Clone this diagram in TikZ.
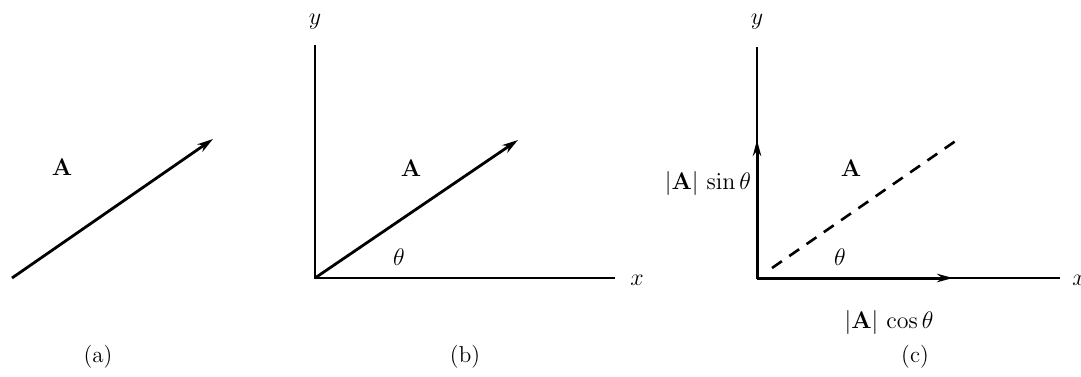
\documentclass[tikz,border=0pt]{standalone}
\usetikzlibrary{arrows.meta}
\begin{document}
\begin{tikzpicture}[x=0.5pt,y=-0.5pt,
  lbl/.style={font=\fontsize{11.5}{13}\selectfont, inner sep=0pt},
  axis/.style={line width=0.8pt},
  vec/.style={line width=1.4pt, -{Stealth[length=8pt,width=4.6pt]}},
  comp/.style={line width=1.5pt, -{Stealth[length=8pt,width=4.2pt]}},
  dashvec/.style={line width=1.3pt, dash pattern=on 6pt off 4.5pt}]
\useasboundingbox (0,0) rectangle (1081,376);
% (a)
\coordinate (a0) at (12,278);
\coordinate (a1) at (213,139);
\draw[vec] (a0) -- (a1);
\node[lbl] (aA) at (62,167) {$\mathbf{A}$};
\node[lbl] (acap) at (98,357) {(a)};
% (b)
\coordinate (bO) at (315,278);
\coordinate (bY) at (315,45);
\coordinate (bX) at (615,278);
\coordinate (bT) at (518,140);
\draw[axis] (bY) -- (bO) -- (bX);
\draw[vec] (bO) -- (bT);
\node[lbl] (by) at (315,22) {$y$};
\node[lbl] (bx) at (637,280) {$x$};
\node[lbl] (bA) at (411,168) {$\mathbf{A}$};
\node[lbl] (bth) at (399,257) {$\theta$};
\node[lbl] (bcap) at (465,357) {(b)};
% (c)
\coordinate (cO) at (757,278);
\coordinate (cY) at (757,47);
\coordinate (cX) at (1060,278);
\coordinate (cYc) at (757,140);
\coordinate (cXc) at (953,278);
\coordinate (cD0) at (772,268);
\coordinate (cD1) at (957,140);
\draw[axis] (cY) -- (cO) -- (cX);
\draw[comp] (cO) -- (cYc);
\draw[comp] (cO) -- (cXc);
\draw[dashvec] (cD0) -- (cD1);
\node[lbl] (cy) at (757,22) {$y$};
\node[lbl, anchor=west] (cx) at (1072,280) {$x$};
\node[lbl] (cA) at (851,168) {$\mathbf{A}$};
\node[lbl] (cth) at (840,257) {$\theta$};
\node[lbl] (csin) at (708,183) {$|\mathbf{A}|\,\sin\theta$};
\node[lbl] (ccos) at (889,322) {$|\mathbf{A}|\,\cos\theta$};
\node[lbl] (ccap) at (915,357) {(c)};
\end{tikzpicture}
\end{document}
